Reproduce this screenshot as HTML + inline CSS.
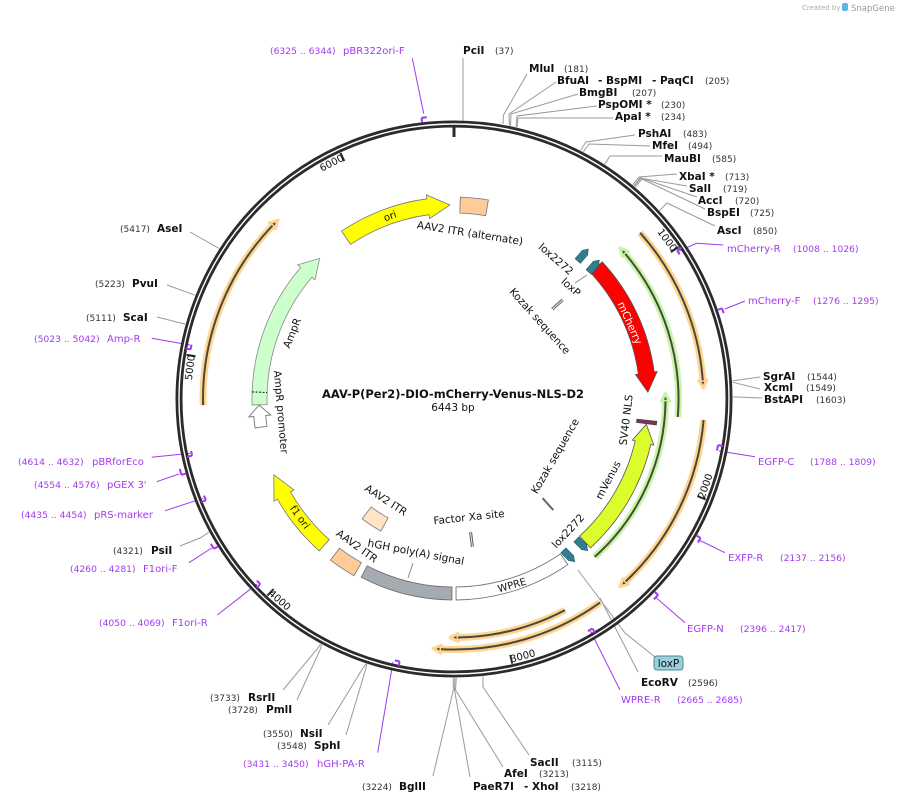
<!DOCTYPE html>
<html><head><meta charset="utf-8"><style>
html,body{margin:0;padding:0;background:#fff;}
svg{display:block;}
.e{font-weight:bold;font-size:10.5px;fill:#111;}
.n{font-size:9px;fill:#333;}
.p{font-size:10px;fill:#a23af0;}
.pn{font-size:9.2px;fill:#a23af0;}
.f{font-size:10.5px;fill:#111;}
.tk{font-size:10px;fill:#111;}
.ln{stroke:#9a9a9a;fill:none;stroke-width:1;}
.pl{stroke:#a23af0;fill:none;stroke-width:1;}
.pm{stroke:#a23af0;fill:none;stroke-width:2;}
.halo-o{stroke:#ffd591;fill:none;stroke-width:7;}
.halo-g{stroke:#c6f6a6;fill:none;stroke-width:7;}
.orf{stroke:#4a4a3c;fill:none;stroke-width:2;}
</style></head><body>
<svg xmlns="http://www.w3.org/2000/svg" width="899" height="803" viewBox="0 0 899 803" font-family="'DejaVu Sans','Liberation Sans',sans-serif">
<rect width="899" height="803" fill="#fff"/>

<!-- created by -->
<text x="802" y="10" font-size="7" fill="#aaa">Created by</text>
<rect x="842" y="3" width="6" height="8" rx="2" fill="#5bb6e8"/>
<text x="851" y="11" font-size="8.5" fill="#999">SnapGene</text>

<!-- enzyme leader lines -->
<g class="ln">
<path d="M463,58 L463,121"/>
<path d="M503,124 L503.5,115 L527,74"/>
<path d="M509.4,125.6 L509,114 L556,82"/>
<path d="M510.5,125.7 L511,114 L578,94"/>
<path d="M516.1,127 L517,116 L597,106"/>
<path d="M517.1,127.2 L518,118 L613,118"/>
<path d="M580.6,150.4 L586,142 L635,135"/>
<path d="M583.3,151.8 L589,144 L650,146"/>
<path d="M604.7,164.2 L610,156 L662,156"/>
<path d="M632.7,184.8 L639,177 L677,174"/>
<path d="M634,185.8 L640,178 L687,186"/>
<path d="M634.2,186 L641,178 L697,197"/>
<path d="M635.3,186.9 L642,179 L705,209"/>
<path d="M659.7,210.5 L667,203 L715,226"/>
<path d="M732.4,380.9 L760,377"/>
<path d="M732.5,382.2 L760,389"/>
<path d="M733,396.9 L762,398"/>
<path d="M600,598 L638,672"/>
<path d="M578,570 L625,633 L655,657"/>
<path d="M482.9,676.5 L483,687 L529,755"/>
<path d="M456.3,678 L455.5,690 L503,767"/>
<path d="M454.9,678 L454.5,690 L470,777"/>
<path d="M453.3,678 L453.3,690 L433,776"/>
<path d="M366.1,663.8 L363,668 L328,725"/>
<path d="M366.7,663.9 L366,668 L346,735"/>
<path d="M320.5,644 L318,648 L283,690"/>
<path d="M321.7,644.7 L320,650 L297,700"/>
<path d="M208.9,532.4 L200,538 L180,546"/>
<path d="M185.2,324.1 L157,317"/>
<path d="M195,295.2 L167,285"/>
<path d="M219.1,248.4 L190,232"/>
</g>

<!-- primer leader lines -->
<g class="pl">
<path d="M423.7,113.6 L412.3,58.3"/>
<path d="M725,309 L745,301"/>
<path d="M679,251 L696.7,243.3 L723.3,245"/>
<path d="M719,451 L755,456.7"/>
<path d="M699,540 L725,552.7"/>
<path d="M656.7,598.3 L685,622.7"/>
<path d="M590.5,631 L620,690"/>
<path d="M393,662 L377.7,752.7"/>
<path d="M257,584 L217.3,615"/>
<path d="M211.7,548 L189,562.7"/>
<path d="M203,498.3 L165,510.7"/>
<path d="M179,474 L156.7,481.7"/>
<path d="M190,453.3 L151.7,457.3"/>
<path d="M190,345 L151.7,338.3"/>
</g>

<!-- backbone -->
<circle cx="454" cy="399" r="275" fill="none" stroke="#2b2b2b" stroke-width="7"/>
<circle cx="454" cy="399" r="275" fill="none" stroke="#fff" stroke-width="1.4"/>

<!-- ticks -->
<g stroke="#2b2b2b" stroke-width="2">
<path d="M454,127.5 L454,137" stroke-width="3"/>
<path d="M678.4,247.1 L670.9,252.1"/>
<path d="M705.7,499.4 L697.3,496.1"/>
<path d="M512.2,663.7 L510.3,654.9"/>
<path d="M267.4,595.6 L273.6,589.1"/>
<path d="M186.6,354.9 L195.5,356.3"/>
<path d="M340.5,152.9 L344.3,161.1"/>
</g>
<g class="tk" text-anchor="middle">
<text x="667.3" y="240" dy=".35em" transform="rotate(53.3 667.3 240)">1000</text>
<text x="705.3" y="486" dy=".35em" transform="rotate(-70.9 705.3 486)">2000</text>
<text x="522.8" y="655.9" dy=".35em" transform="rotate(-15 522.8 655.9)">3000</text>
<text x="279.8" y="600.1" dy=".35em" transform="rotate(40.9 279.8 600.1)">4000</text>
<text x="189.9" y="367.5" dy=".35em" transform="rotate(-83.2 189.9 367.5)">5000</text>
<text x="331.6" y="162.8" dy=".35em" transform="rotate(-27.4 331.6 162.8)">6000</text>
</g>

<!-- primer markers -->
<g class="pm">
<path d="M421.5,117.9 A283,283 0 0 1 426.8,117.3 M421.5,117.9 L422.1,122.8"/>
<path d="M722.1,308.3 A283,283 0 0 1 723.7,313.2 M722.1,308.3 L717.3,309.9"/>
<path d="M677.1,250.4 A268,268 0 0 1 679.7,254.4 M677.1,250.4 L681.2,247.7"/>
<path d="M718,445.1 A268,268 0 0 1 717,450.5 M718,445.1 L722.9,445.9"/>
<path d="M700.5,537.9 A283,283 0 0 1 697.9,542.5 M700.5,537.9 L696.2,535.5"/>
<path d="M658.1,595 A283,283 0 0 1 653.9,599.3 M658.1,595 L654.5,591.5"/>
<path d="M592.4,628.5 A268,268 0 0 1 587.9,631.1 M592.4,628.5 L595,632.8"/>
<path d="M399.6,661.4 A268,268 0 0 1 394.8,660.4 M399.6,661.4 L398.6,666.3"/>
<path d="M260.3,584.2 A268,268 0 0 1 256.9,580.6 M260.3,584.2 L256.7,587.7"/>
<path d="M213.9,548.9 A283,283 0 0 1 210.9,543.9 M213.9,548.9 L218.2,546.2"/>
<path d="M205.9,500.2 A268,268 0 0 1 204,495.6 M205.9,500.2 L201.2,502.1"/>
<path d="M181.4,474.9 A283,283 0 0 1 179.8,469 M181.4,474.9 L186.2,473.5"/>
<path d="M192.1,455.6 A268,268 0 0 1 191.1,451 M192.1,455.6 L187.2,456.7"/>
<path d="M190.6,349.4 A268,268 0 0 1 191.6,344.6 M190.6,349.4 L185.7,348.5"/>
</g>

<!-- ORF arcs -->
<g>
<path class="halo-o" d="M640.1,232.8 A249.5,249.5 0 0 1 702.8,380.3"/>
<polygon points="706.8,380 703.3,388.1 698.8,380.6" fill="#4a4a3c" stroke="#ffd591" stroke-width="3" stroke-linejoin="round"/>
<path class="orf" d="M640.1,232.8 A249.5,249.5 0 0 1 702.8,380.3"/>

<path class="halo-o" d="M703.6,420 A250.5,250.5 0 0 1 625.7,581.4"/>
<polygon points="628.5,584.3 619.8,586.8 623,578.5" fill="#4a4a3c" stroke="#ffd591" stroke-width="3" stroke-linejoin="round"/>
<path class="orf" d="M703.6,420 A250.5,250.5 0 0 1 625.7,581.4"/>

<path class="halo-o" d="M600.2,602.4 A250.5,250.5 0 0 1 441,649.2"/>
<polygon points="440.8,653.2 433,648.6 441.2,645.2" fill="#4a4a3c" stroke="#ffd591" stroke-width="3" stroke-linejoin="round"/>
<path class="orf" d="M600.2,602.4 A250.5,250.5 0 0 1 441,649.2"/>

<path class="halo-o" d="M565,610.1 A238.5,238.5 0 0 1 458,637.5"/>
<polygon points="458.1,641.5 450,637.5 457.9,633.5" fill="#4a4a3c" stroke="#ffd591" stroke-width="3" stroke-linejoin="round"/>
<path class="orf" d="M565,610.1 A238.5,238.5 0 0 1 458,637.5"/>

<path class="halo-o" d="M203.1,405.1 A251,251 0 0 1 272.4,225.7"/>
<polygon points="269.5,222.9 278.1,220 275.3,228.5" fill="#4a4a3c" stroke="#ffd591" stroke-width="3" stroke-linejoin="round"/>
<path class="orf" d="M203.1,405.1 A251,251 0 0 1 272.4,225.7"/>

<path class="halo-g" d="M677.8,417 A224.5,224.5 0 0 0 625.3,253.9"/>
<polygon points="628.4,251.4 620,247.9 622.3,256.5" fill="#4a4a3c" stroke="#c6f6a6" stroke-width="3" stroke-linejoin="round"/>
<path class="orf" d="M677.8,417 A224.5,224.5 0 0 0 625.3,253.9"/>

<path class="halo-g" d="M594.7,556.9 A211.5,211.5 0 0 0 665.5,401.3"/>
<polygon points="669.5,401.3 665.4,393.3 661.5,401.2" fill="#4a4a3c" stroke="#c6f6a6" stroke-width="3" stroke-linejoin="round"/>
<path class="orf" d="M594.7,556.9 A211.5,211.5 0 0 0 665.5,401.3"/>
</g>

<!-- features -->
<path d="M341.6,231.1 A202,202 0 0 1 426.9,198.8 L426.4,194.9 L449.9,205 L429.6,218.6 L429.1,214.7 A186,186 0 0 0 350.5,244.4 Z" fill="#ffff00" stroke="#777" stroke-width="0.8"/>
<path d="M460.3,197.1 A202,202 0 0 1 488.4,200 L485.7,215.7 A186,186 0 0 0 459.8,213.1 Z" fill="#ffcc99" stroke="#777" stroke-width="0.8"/>
<path d="M602.2,261.8 A202,202 0 0 1 654.2,371.9 L657.2,371.5 L647.9,392.2 L635.4,374.5 L638.3,374.1 A186,186 0 0 0 590.5,272.6 Z" fill="#ff0000" stroke="#555" stroke-width="0.8"/>
<path d="M590.5,547.9 A202,202 0 0 0 650.8,444.5 L653.8,445.1 L646.3,424.3 L632.3,440.2 L635.2,440.9 A186,186 0 0 1 579.7,536.1 Z" fill="#dcfc2c" stroke="#555" stroke-width="0.8"/>
<path d="M656.8,421.4 L656.3,424.9 L636.5,422.4 L636.9,419.2 Z" fill="#8b2a5e" stroke="#444" stroke-width="0.8"/>
<path d="M252.1,405 A202,202 0 0 1 300.6,267.5 L297.6,264.9 L319.6,258.4 L315,279.9 L312,277.3 A187,187 0 0 0 267.1,404.6 Z" fill="#ccffcc" stroke="#888" stroke-width="0.8"/>
<path d="M252.1,391.9 L267.1,392.5" stroke="#111" stroke-width="1" stroke-dasharray="2,1.5"/>
<path d="M255.1,428 A201,201 0 0 1 253.8,416.5 L248.8,417 L259.1,405.1 L270.7,415 L265.7,415.5 A189,189 0 0 0 267,426.3 Z" fill="#fff" stroke="#777" stroke-width="0.9"/>
<path d="M319.2,550.8 A203,203 0 0 1 277.5,499.3 L274,501.2 L273.8,474.8 L294,489.9 L290.5,491.9 A188,188 0 0 0 329.2,539.6 Z" fill="#ffff00" stroke="#777" stroke-width="0.8"/>
<path d="M354,575.7 A203,203 0 0 1 330.4,560.1 L339.5,548.2 A188,188 0 0 0 361.4,562.6 Z" fill="#ffcc99" stroke="#777" stroke-width="0.8"/>
<path d="M380.8,531.1 A151,151 0 0 1 362.1,518.8 L371.2,506.9 A136,136 0 0 0 388.1,517.9 Z" fill="#ffe4c6" stroke="#777" stroke-width="0.8"/>
<path d="M361.2,577.3 A201,201 0 0 0 451.9,600 L452,587 A188,188 0 0 1 367.2,565.8 Z" fill="#a6abb2" stroke="#666" stroke-width="0.8"/>
<path d="M456.1,600 A201,201 0 0 0 567.8,564.6 L560.5,553.9 A188,188 0 0 1 456,587 Z" fill="#fff" stroke="#777" stroke-width="0.9"/>

<!-- lox sites -->
<g fill="#2f7e92" stroke="#1f5666" stroke-width="0.6">
<polygon transform="translate(583,255) rotate(-49)" points="-8,-3.5 3,-3.5 8,0 3,3.5 -8,3.5"/>
<polygon transform="translate(594,266) rotate(-49)" points="-8,-3.5 3,-3.5 8,0 3,3.5 -8,3.5"/>
<polygon transform="translate(582,545) rotate(45)" points="-8,-3.5 3,-3.5 8,0 3,3.5 -8,3.5"/>
<polygon transform="translate(569,556) rotate(45)" points="-8,-3.5 3,-3.5 8,0 3,3.5 -8,3.5"/>
</g>

<!-- small site ticks -->
<g>
<path d="M552.2,309.3 L562.6,299.9" stroke="#666" stroke-width="3"/>
<path d="M552.2,309.3 L562.6,299.9" stroke="#fff" stroke-width="0.8"/>
<path d="M542.6,498.2 L553.3,510.1" stroke="#666" stroke-width="2"/>
<path d="M470.6,532 L472.4,546.9" stroke="#666" stroke-width="3"/>
<path d="M470.6,532 L472.4,546.9" stroke="#fff" stroke-width="0.8"/>
<path d="M413,563 L408,578" stroke="#888" stroke-width="1"/>
<path d="M575,283 L587,275" stroke="#888" stroke-width="1"/>
</g>

<!-- feature labels -->
<g class="f" text-anchor="middle">
<text x="390" y="216" dy=".35em" font-size="10" transform="rotate(-20 390 216)">ori</text>
<text x="470" y="233" dy=".35em" transform="rotate(9 470 233)">AAV2 ITR (alternate)</text>
<text x="556" y="259" dy=".35em" transform="rotate(41 556 259)">lox2272</text>
<text x="571" y="287" dy=".35em" transform="rotate(42 571 287)">loxP</text>
<text x="540" y="321" dy=".35em" transform="rotate(48 540 321)">Kozak sequence</text>
<text x="630" y="323" dy=".35em" fill="#fff" style="fill:#fff" transform="rotate(66 630 323)">mCherry</text>
<text x="626" y="420" dy=".35em" transform="rotate(-83 626 420)">SV40 NLS</text>
<text x="608" y="480" dy=".35em" transform="rotate(-62 608 480)">mVenus</text>
<text x="555" y="456" dy=".35em" transform="rotate(-60 555 456)">Kozak sequence</text>
<text x="568" y="531" dy=".35em" transform="rotate(-47 568 531)">lox2272</text>
<text x="512" y="585" dy=".35em" font-size="10" transform="rotate(-16 512 585)">WPRE</text>
<text x="469" y="517" dy=".35em" transform="rotate(-6 469 517)">Factor Xa site</text>
<text x="416" y="552" dy=".35em" transform="rotate(11 416 552)">hGH poly(A) signal</text>
<text x="386" y="500" dy=".35em" transform="rotate(33 386 500)">AAV2 ITR</text>
<text x="357" y="546" dy=".35em" transform="rotate(36 357 546)">AAV2 ITR</text>
<text x="300" y="517" dy=".35em" font-size="10" transform="rotate(54 300 517)">f1 ori</text>
<text x="292" y="333" dy=".35em" transform="rotate(-68 292 333)">AmpR</text>
<text x="281" y="412" dy=".35em" transform="rotate(85 281 412)">AmpR promoter</text>
</g>

<!-- loxP box -->
<rect x="654" y="656" width="29" height="14" rx="3" fill="#9ccfdc" stroke="#4f8796" stroke-width="1"/>
<text x="668.5" y="667" text-anchor="middle" font-size="10.5" fill="#111">loxP</text>

<!-- center title -->
<text x="453" y="398" text-anchor="middle" font-weight="bold" font-size="11.3" fill="#111" textLength="262" lengthAdjust="spacingAndGlyphs">AAV-P(Per2)-DIO-mCherry-Venus-NLS-D2</text>
<text x="453" y="411" text-anchor="middle" font-size="10.5" fill="#111">6443 bp</text>

<!-- enzyme labels -->
<text class="e" x="463" y="54">PciI</text><text class="n" x="495" y="54">(37)</text>
<text class="e" x="529" y="72">MluI</text><text class="n" x="564" y="72">(181)</text>
<text class="e" x="557" y="84">BfuAI</text><text class="e" x="598" y="84">- BspMI</text><text class="e" x="652" y="84">- PaqCI</text><text class="n" x="705" y="84">(205)</text>
<text class="e" x="579" y="96">BmgBI</text><text class="n" x="632" y="96">(207)</text>
<text class="e" x="598" y="108">PspOMI *</text><text class="n" x="661" y="108">(230)</text>
<text class="e" x="615" y="120">ApaI *</text><text class="n" x="661" y="120">(234)</text>
<text class="e" x="638" y="137">PshAI</text><text class="n" x="683" y="137">(483)</text>
<text class="e" x="652" y="149">MfeI</text><text class="n" x="688" y="149">(494)</text>
<text class="e" x="664" y="162">MauBI</text><text class="n" x="712" y="162">(585)</text>
<text class="e" x="679" y="180">XbaI *</text><text class="n" x="725" y="180">(713)</text>
<text class="e" x="689" y="192">SalI</text><text class="n" x="723" y="192">(719)</text>
<text class="e" x="698" y="204">AccI</text><text class="n" x="735" y="204">(720)</text>
<text class="e" x="707" y="216">BspEI</text><text class="n" x="750" y="216">(725)</text>
<text class="e" x="717" y="234">AscI</text><text class="n" x="753" y="234">(850)</text>
<text class="e" x="763" y="380">SgrAI</text><text class="n" x="807" y="380">(1544)</text>
<text class="e" x="764" y="391">XcmI</text><text class="n" x="806" y="391">(1549)</text>
<text class="e" x="764" y="403">BstAPI</text><text class="n" x="816" y="403">(1603)</text>
<text class="e" x="641" y="686">EcoRV</text><text class="n" x="688" y="686">(2596)</text>
<text class="e" x="530" y="766">SacII</text><text class="n" x="572" y="766">(3115)</text>
<text class="e" x="504" y="777">AfeI</text><text class="n" x="539" y="777">(3213)</text>
<text class="e" x="473" y="790">PaeR7I</text><text class="e" x="524" y="790">- XhoI</text><text class="n" x="571" y="790">(3218)</text>
<text class="n" x="362" y="790">(3224)</text><text class="e" x="399" y="790">BglII</text>
<text class="n" x="210" y="701">(3733)</text><text class="e" x="248" y="701">RsrII</text>
<text class="n" x="228" y="713">(3728)</text><text class="e" x="266" y="713">PmlI</text>
<text class="n" x="263" y="737">(3550)</text><text class="e" x="300" y="737">NsiI</text>
<text class="n" x="277" y="749">(3548)</text><text class="e" x="314" y="749">SphI</text>
<text class="n" x="113" y="554">(4321)</text><text class="e" x="151" y="554">PsiI</text>
<text class="n" x="86" y="321">(5111)</text><text class="e" x="123" y="321">ScaI</text>
<text class="n" x="95" y="287">(5223)</text><text class="e" x="132" y="287">PvuI</text>
<text class="n" x="120" y="232">(5417)</text><text class="e" x="157" y="232">AseI</text>

<!-- primer labels -->
<text class="pn" x="270" y="54">(6325 .. 6344)</text><text class="p" x="343" y="54">pBR322ori-F</text>
<text class="p" x="727" y="252">mCherry-R</text><text class="pn" x="793" y="252">(1008 .. 1026)</text>
<text class="p" x="748" y="304">mCherry-F</text><text class="pn" x="813" y="304">(1276 .. 1295)</text>
<text class="p" x="758" y="465">EGFP-C</text><text class="pn" x="810" y="465">(1788 .. 1809)</text>
<text class="p" x="728" y="561">EXFP-R</text><text class="pn" x="780" y="561">(2137 .. 2156)</text>
<text class="p" x="687" y="632">EGFP-N</text><text class="pn" x="740" y="632">(2396 .. 2417)</text>
<text class="p" x="621" y="703">WPRE-R</text><text class="pn" x="677" y="703">(2665 .. 2685)</text>
<text class="pn" x="243" y="767">(3431 .. 3450)</text><text class="p" x="317" y="767">hGH-PA-R</text>
<text class="pn" x="99" y="626">(4050 .. 4069)</text><text class="p" x="172" y="626">F1ori-R</text>
<text class="pn" x="70" y="572">(4260 .. 4281)</text><text class="p" x="143" y="572">F1ori-F</text>
<text class="pn" x="21" y="518">(4435 .. 4454)</text><text class="p" x="94" y="518">pRS-marker</text>
<text class="pn" x="34" y="488">(4554 .. 4576)</text><text class="p" x="107" y="488">pGEX 3'</text>
<text class="pn" x="18" y="465">(4614 .. 4632)</text><text class="p" x="92" y="465">pBRforEco</text>
<text class="pn" x="34" y="342">(5023 .. 5042)</text><text class="p" x="107" y="342">Amp-R</text>
</svg>
</body></html>
